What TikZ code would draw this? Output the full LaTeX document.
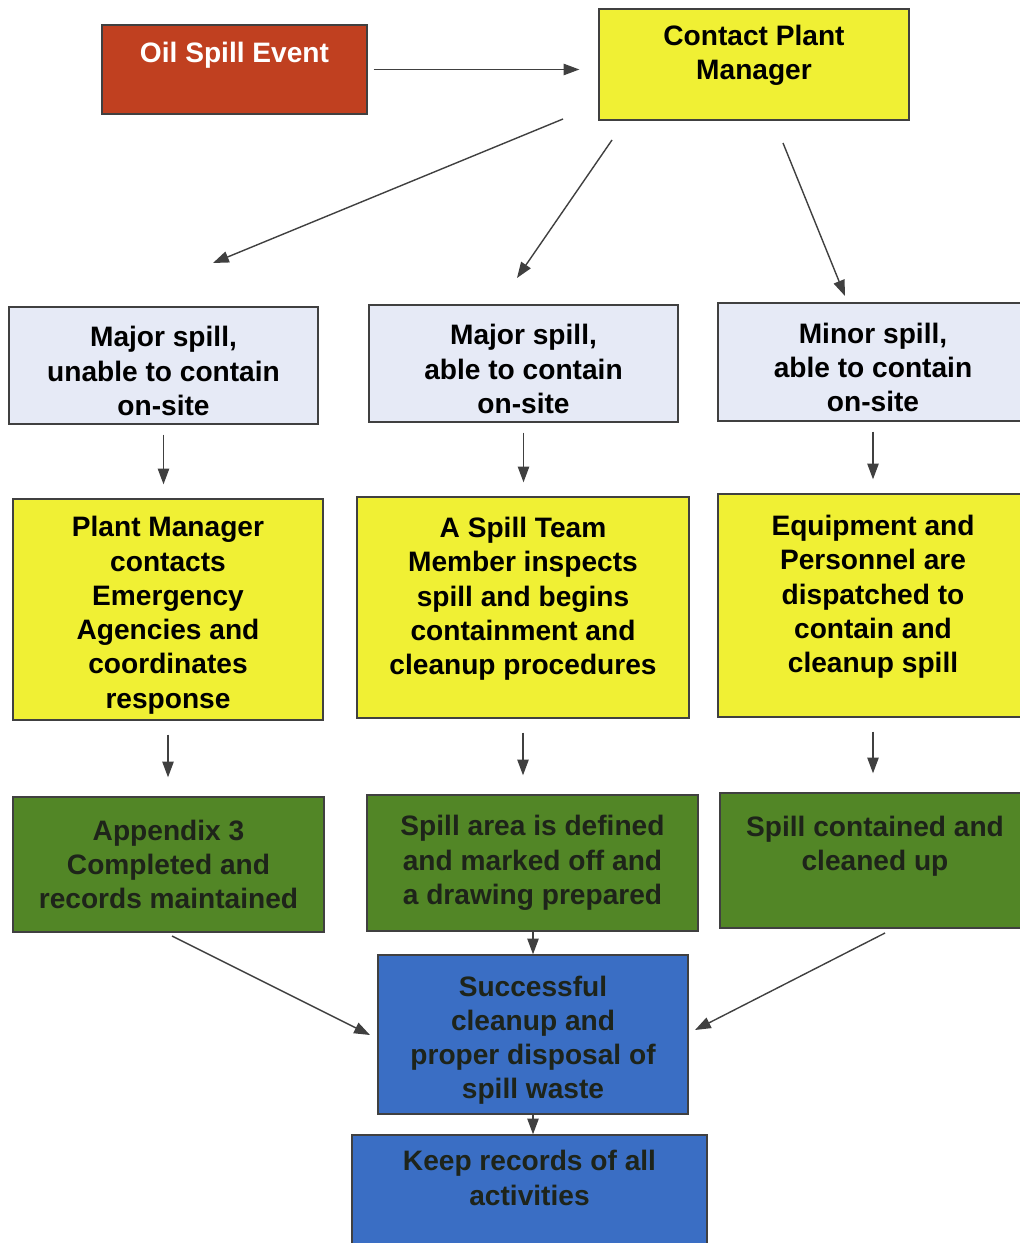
\documentclass[tikz,border=0pt]{standalone}
\usepackage{fontspec}
\setmainfont{Liberation Sans}
\usetikzlibrary{arrows.meta}
\definecolor{spillred}{RGB}{192,64,32}
\definecolor{spillyellow}{RGB}{240,240,52}
\definecolor{spilllav}{RGB}{230,234,246}
\definecolor{spillgreen}{RGB}{82,134,38}
\definecolor{spillblue}{RGB}{58,110,196}
\definecolor{darkink}{RGB}{30,36,26}
\newcommand\topgap{\rule{0pt}{18pt}}
\tikzset{
  box/.style={draw=black!75, line width=0.8pt, align=center, inner sep=0pt,
    font=\fontsize{16}{19.5}\selectfont\bfseries},
  arr/.style={draw=black!75, line width=0.8pt, -{Triangle[length=9pt,width=6.5pt]}},
  gapa/.style={shorten <=0.2cm, shorten >=0.28cm},
  gapb/.style={shorten <=0.28cm, shorten >=0.38cm},
}

\begin{document}
\begin{tikzpicture}[x=0.02cm, y=-0.02cm]
		%%%%% START %%%%%
		\useasboundingbox (0,0) rectangle (1019,1243);
		
		\node[box, fill=spillred, text=white, minimum width=5.3cm, minimum height=1.78cm] (oil) at (234.5, 69.5) {Oil Spill Event\\~};
		\node[box, fill=spillyellow, minimum width=6.2cm, minimum height=2.22cm] (cpm) at (754, 64.5) {Contact Plant\\Manager\\[-6pt]~};
		
		\draw[arr, shorten <=0.12cm, shorten >=0.38cm] (oil.east) -- (oil.east -| cpm.west);
		
		% spill size
		\node[box, fill=spilllav, minimum width=6.18cm, minimum height=2.34cm] (maja) at (163.5, 365.5) {\topgap Major spill,\\unable to contain\\on-site};
		\node[box, fill=spilllav, minimum width=6.18cm, minimum height=2.34cm] (majb) at (523.5, 363.5) {\topgap Major spill,\\able to contain\\on-site};
		\node[box, fill=spilllav, minimum width=6.2cm, minimum height=2.36cm] (minc) at (873, 362) {\topgap Minor spill,\\able to contain\\on-site};
		
		\coordinate (sa) at (563, 119);
		\coordinate (ea) at (213, 263);
		\coordinate (sb) at (612, 140);
		\coordinate (eb) at (517, 278);
		\coordinate (sc) at (783, 143);
		\coordinate (ec) at (845, 296);
		\draw[arr] (sa) -- (ea);
		\draw[arr] (sb) -- (eb);
		\draw[arr] (sc) -- (ec);
		
		% actions
		\node[box, fill=spillyellow, minimum width=6.2cm, minimum height=4.42cm] (acta) at (168, 609.5) {\topgap Plant Manager\\contacts\\Emergency\\Agencies and\\coordinates\\response};
		\node[box, fill=spillyellow, minimum width=6.64cm, minimum height=4.42cm] (actb) at (523, 607.5) {\topgap A Spill Team\\Member inspects\\spill and begins\\containment and\\cleanup procedures\\~};
		\node[box, fill=spillyellow, minimum width=6.2cm, minimum height=4.46cm] (actc) at (873, 605.5) {\topgap Equipment and\\Personnel are\\dispatched to\\contain and\\cleanup spill\\~};
		
		\draw[arr, gapa] (maja.south) -- (maja.south |- acta.north);
		\draw[arr, gapa] (majb.south) -- (majb.south |- actb.north);
		\draw[arr, gapa] (minc.south) -- (minc.south |- actc.north);
		
		% results
		\node[box, fill=spillgreen, text=darkink, minimum width=6.22cm, minimum height=2.7cm] (resa) at (168.5, 864.5) {Appendix 3\\Completed and\\records maintained};
		\node[box, fill=spillgreen, text=darkink, minimum width=6.62cm, minimum height=2.72cm] (resb) at (532.5, 863) {Spill area is defined\\and marked off and\\a drawing prepared};
		\node[box, fill=spillgreen, text=darkink, minimum width=6.2cm, minimum height=2.7cm] (resc) at (875, 860.5) {Spill contained and\\cleaned up\\~};
		
		\draw[arr, gapb] (acta.south) -- (acta.south |- resa.north);
		\draw[arr, gapb] (actb.south) -- (actb.south |- resb.north);
		\draw[arr, gapb] (actc.south) -- (actc.south |- resc.north);
		
		% end
		\node[box, fill=spillblue, text=darkink, minimum width=6.2cm, minimum height=3.18cm] (done) at (533, 1034.5) {\topgap Successful\\cleanup and\\proper disposal of\\spill waste};
		\node[box, fill=spillblue, text=darkink, minimum width=7.1cm, minimum height=2.4cm] (keep) at (529.5, 1195) {Keep records of all\\activities\\~};
		
		\coordinate (sd) at (172, 936);
		\coordinate (ed) at (370, 1035);
		\coordinate (se) at (885, 933);
		\coordinate (ee) at (695, 1030);
		\draw[arr] (sd) -- (ed);
		\draw[arr] (se) -- (ee);
		\draw[arr] (done.north |- resb.south) -- (done.north);
		\draw[arr] (done.south) -- (done.south |- keep.north);
		
		%%%%% END %%%%%
\end{tikzpicture}
\end{document}
